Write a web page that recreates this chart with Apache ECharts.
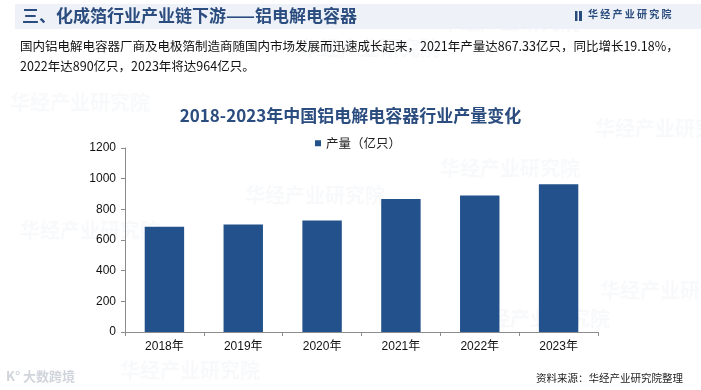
<!DOCTYPE html>
<html><head><meta charset="utf-8">
<script src="https://cdn.jsdelivr.net/npm/echarts@6/dist/echarts.min.js"></script>
<style>html,body{margin:0;padding:0;background:#fff}#c{width:701px;height:390px}</style>
</head><body><div id="c"></div>
<script>
var categories = ['2018年','2019年','2020年','2021年','2022年','2023年'];
var production = [687, 701, 727.8, 867.33, 890, 964];
var seriesName = '产量（亿只）';
var yTicks = {min: 0, max: 1200, interval: 200};
var headerTitle = '三、化成箔行业产业链下游——铝电解电容器';
var chartTitle = '2018-2023年中国铝电解电容器行业产量变化';
var paraLines = ['国内铝电解电容器厂商及电极箔制造商随国内市场发展而迅速成长起来，2021年产量达867.33亿只，同比增长19.18%，','2022年达890亿只，2023年将达964亿只。'];
var sourceText = '资料来源：华经产业研究院整理';
var brand = '华经产业研究院';

var cjk = '"Noto Sans CJK SC", "Noto Sans", sans-serif';
var latin = '"Liberation Sans", Arial, "Noto Sans CJK SC", sans-serif';
var chart = echarts.init(document.getElementById('c'), null, {renderer: 'canvas'});

var wm = [[440,12],[300,38],[10,92],[245,185],[440,158],[595,118],[120,360],[470,308],[600,280],[20,220]];
var wmGraphics = wm.map(function(p){
  return {type:'text', left:p[0], top:p[1], silent:true, z:0,
    style:{text:brand, fill:'rgba(120,140,170,0.05)', font:'bold 20px ' + cjk}};
});

chart.setOption({
  animation: false,
  title: {text: chartTitle, left: 'center', top: 102,
    textStyle: {color: '#2b4c7e', fontSize: 17, fontWeight: 'bold', fontFamily: cjk}},
  legend: {data: [seriesName], top: 132, left: 310, itemWidth: 6, itemHeight: 6, itemGap: 4,
    icon: 'rect', textStyle: {fontSize: 12.5, color: '#222', fontFamily: cjk}},
  grid: {left: 125, right: 103, top: 148, bottom: 58},
  xAxis: {type: 'category', data: categories,
    axisLine: {lineStyle: {color: '#8c8c8c'}},
    axisTick: {show: true, lineStyle: {color: '#8c8c8c'}, length: 4},
    axisLabel: {color: '#111', fontSize: 12, fontFamily: latin, margin: 9}},
  yAxis: {type: 'value', min: yTicks.min, max: yTicks.max, interval: yTicks.interval,
    axisLine: {show: true, lineStyle: {color: '#8c8c8c'}},
    axisTick: {show: true, lineStyle: {color: '#8c8c8c'}, length: 4},
    splitLine: {show: false},
    axisLabel: {color: '#111', fontSize: 12, fontFamily: latin, margin: 9,
      formatter: function(v){ return String(v); }}},
  series: [{name: seriesName, type: 'bar', data: production, barWidth: '50%',
    itemStyle: {color: '#22518b'}}],
  graphic: wmGraphics.concat([
    {type:'rect', shape:{x:15, y:4, width:686, height:25}, style:{fill:'#eef2f8'}, z:1},
    {type:'text', left:22, top:7, z:2, style:{text: headerTitle, fill:'#2b4c7e', font:'bold 17px ' + cjk}},
    {type:'rect', shape:{x:575, y:11, width:2.5, height:10}, style:{fill:'#2b4c7e'}, z:2},
    {type:'rect', shape:{x:579, y:11, width:3, height:10}, style:{fill:'#2b4c7e'}, z:2},
    {type:'text', left:588, top:9, z:2, style:{text: brand.split('').join(' '), fill:'#2b4c7e', font:'bold 10px ' + cjk}},
    {type:'text', left:20, top:40, z:2, style:{text: paraLines[0], fill:'#111', font:'12.5px ' + cjk}},
    {type:'text', left:20, top:60, z:2, style:{text: paraLines[1], fill:'#111', font:'12.5px ' + cjk}},
    {type:'text', right:18, top:373, z:2, style:{text: sourceText, fill:'#222', font:'10.5px ' + cjk}},
    {type:'text', left:6, top:370, z:2, style:{text: 'K° 大数跨境', fill:'rgba(150,160,175,0.45)', font:'bold 13px ' + cjk}}
  ])
});
</script></body></html>
